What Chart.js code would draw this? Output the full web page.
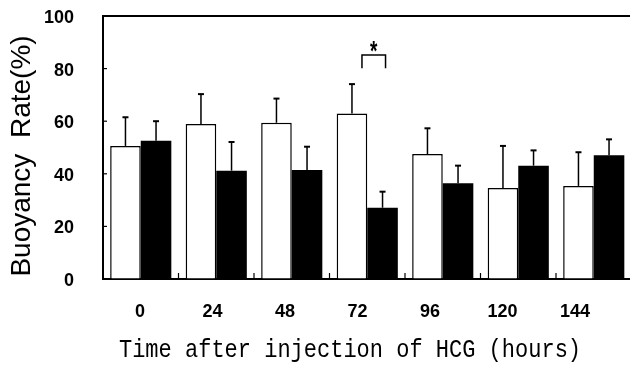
<!DOCTYPE html>
<html>
<head>
<meta charset="utf-8">
<script src="https://cdn.jsdelivr.net/npm/chart.js@4.4.1/dist/chart.umd.min.js"></script>
<style>
html,body{margin:0;padding:0;background:#fff;overflow:hidden;}
#wrap{width:634px;height:365px;position:relative;}
</style>
</head>
<body>
<div id="wrap"><canvas id="c"></canvas></div>
<script>
// ---- data ----
const hourLabels = ['0', '24', '48', '72', '96', '120', '144'];
const controlMeans = [50.6, 58.9, 59.4, 62.9, 47.5, 34.6, 35.4];
const controlErrTop = [61.5, 70.3, 68.6, 74.1, 57.3, 50.6, 48.2];
const hcgMeans = [52.6, 41.2, 41.4, 27.1, 36.4, 43.1, 47.1];
const hcgErrTop = [60.0, 52.1, 50.3, 33.2, 43.1, 48.9, 53.1];
const yTicks = [0, 20, 40, 60, 80, 100];
const sigIndex = 3;
const yTitle = 'Buoyancy  Rate(%)';
const xTitle = 'Time after injection of HCG (hours)';

const tickFont = {family: "'Liberation Sans',Arial,sans-serif", size: 18, weight: 'bold'};

const decor = {
  id: 'decor',
  afterDatasetsDraw(chart) {
    const ctx = chart.ctx;
    const ca = chart.chartArea;
    const y = chart.scales.y;
    const x = chart.scales.x;
    ctx.save();
    ctx.strokeStyle = '#000';
    ctx.lineCap = 'butt';
    // error bars
    const errs = [controlErrTop, hcgErrTop];
    [0, 1].forEach(d => {
      const meta = chart.getDatasetMeta(d);
      meta.data.forEach((el, i) => {
        const ye = y.getPixelForValue(errs[d][i]);
        ctx.lineWidth = 1.5;
        ctx.beginPath();
        ctx.moveTo(el.x, el.y);
        ctx.lineTo(el.x, ye);
        ctx.stroke();
        ctx.lineWidth = 2;
        ctx.beginPath();
        ctx.moveTo(el.x - 3, ye);
        ctx.lineTo(el.x + 3, ye);
        ctx.stroke();
      });
    });
    // top frame line
    ctx.lineWidth = 2;
    ctx.beginPath();
    ctx.moveTo(ca.left, ca.top);
    ctx.lineTo(ca.right, ca.top);
    ctx.stroke();
    // inward y ticks
    ctx.lineWidth = 1.2;
    yTicks.forEach(v => {
      if (v === 0 || v === 100) return;
      const py = y.getPixelForValue(v);
      ctx.beginPath();
      ctx.moveTo(ca.left, py);
      ctx.lineTo(ca.left + 4, py);
      ctx.stroke();
    });
    // inward x ticks between categories
    for (let i = 0; i < hourLabels.length - 1; i++) {
      const px = (x.getPixelForValue(i) + x.getPixelForValue(i + 1)) / 2;
      ctx.beginPath();
      ctx.moveTo(px, ca.bottom);
      ctx.lineTo(px, ca.bottom - 6);
      ctx.stroke();
    }
    // significance bracket
    const w = chart.getDatasetMeta(0).data[sigIndex];
    const b = chart.getDatasetMeta(1).data[sigIndex];
    const bl = w.x + 10, br = b.x + 3;
    const bt = y.getPixelForValue(85.2), bb = y.getPixelForValue(80.1);
    ctx.lineWidth = 1.5;
    ctx.beginPath();
    ctx.moveTo(bl, bb);
    ctx.lineTo(bl, bt);
    ctx.lineTo(br, bt);
    ctx.lineTo(br, bb);
    ctx.stroke();
    ctx.fillStyle = '#000';
    ctx.save();
    ctx.translate((bl + br) / 2, y.getPixelForValue(83.4));
    ctx.scale(1, 1.5);
    ctx.font = "bold 19px 'Liberation Sans',sans-serif";
    ctx.textAlign = 'center';
    ctx.textBaseline = 'alphabetic';
    ctx.fillText('*', 0, 0);
    ctx.restore();
    // y title
    ctx.save();
    ctx.translate(22, 156);
    ctx.rotate(-Math.PI / 2);
    ctx.font = "28px 'Liberation Sans',Arial,sans-serif";
    ctx.textAlign = 'center';
    ctx.textBaseline = 'middle';
    ctx.fillText(yTitle, 0, 0);
    ctx.restore();
    // x title
    ctx.save();
    ctx.translate(350, 357);
    ctx.scale(1, 1.17);
    ctx.font = "22px 'Liberation Mono','DejaVu Sans Mono',monospace";
    ctx.textAlign = 'center';
    ctx.textBaseline = 'alphabetic';
    ctx.fillText(xTitle, 0, 0);
    ctx.restore();
    ctx.restore();
  }
};

new Chart(document.getElementById('c'), {
  type: 'bar',
  data: {
    labels: hourLabels,
    datasets: [
      {label: 'Control', data: controlMeans, backgroundColor: '#fff', borderColor: '#000', borderWidth: 1.5, borderSkipped: 'bottom',
       categoryPercentage: 0.81, barPercentage: 1.0},
      {label: 'HCG', data: hcgMeans, backgroundColor: '#000', borderColor: '#000', borderWidth: 0,
       categoryPercentage: 0.81, barPercentage: 1.0}
    ]
  },
  options: {
    responsive: true,
    maintainAspectRatio: false,
    animation: false,
    devicePixelRatio: 1,
    layout: {padding: {top: 16, right: 2.5, left: 0, bottom: 0}},
    plugins: {legend: {display: false}, tooltip: {enabled: false}, title: {display: false}},
    scales: {
      x: {type: 'category', display: false, offset: true},
      x2: {
        type: 'linear', position: 'bottom', min: -0.5103, max: 6.779, offset: false,
        afterBuildTicks(s) { s.ticks = hourLabels.map((_, i) => ({value: i})); },
        afterFit(s) { s.height = 86; s.paddingLeft = 0; s.paddingRight = 0; },
        grid: {drawOnChartArea: false, drawTicks: false, offset: false},
        border: {display: true, color: '#000', width: 2},
        ticks: {autoSkip: false, maxRotation: 0, padding: 22, color: '#000', font: tickFont,
          callback: (v) => hourLabels[v]}
      },
      y: {
        min: 0, max: 100,
        afterBuildTicks(s) { s.ticks = yTicks.map(v => ({value: v})); },
        afterFit(s) { s.width = 103; s.paddingTop = 0; s.paddingBottom = 0; },
        grid: {drawOnChartArea: false, drawTicks: false},
        border: {display: true, color: '#000', width: 2},
        ticks: {padding: 29, labelOffset: 2, color: '#000', font: tickFont}
      }
    }
  },
  plugins: [decor]
});
</script>
</body>
</html>
